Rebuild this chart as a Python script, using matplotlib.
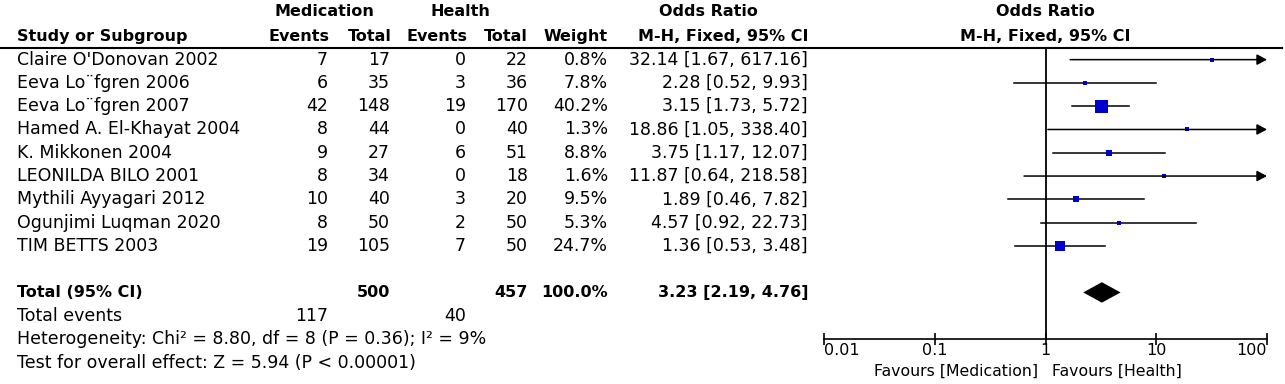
import matplotlib
matplotlib.use("Agg")
import matplotlib.pyplot as plt
from matplotlib.lines import Line2D
from matplotlib.transforms import blended_transform_factory

# study data
studies = ["Claire O'Donovan 2002", "Eeva Lo\u00a8fgren 2006", "Eeva Lo\u00a8fgren 2007",
           "Hamed A. El-Khayat 2004", "K. Mikkonen 2004", "LEONILDA BILO 2001",
           "Mythili Ayyagari 2012", "Ogunjimi Luqman 2020", "TIM BETTS 2003"]
med_events = [7, 6, 42, 8, 9, 8, 10, 8, 19]
med_total = [17, 35, 148, 44, 27, 34, 40, 50, 105]
hl_events = [0, 3, 19, 0, 6, 0, 3, 2, 7]
hl_total = [22, 36, 170, 40, 51, 18, 20, 50, 50]
weights = [0.8, 7.8, 40.2, 1.3, 8.8, 1.6, 9.5, 5.3, 24.7]
or_est = [32.14, 2.28, 3.15, 18.86, 3.75, 11.87, 1.89, 4.57, 1.36]
ci_lo = [1.67, 0.52, 1.73, 1.05, 1.17, 0.64, 0.46, 0.92, 0.53]
ci_hi = [617.16, 9.93, 5.72, 338.40, 12.07, 218.58, 7.82, 22.73, 3.48]

total_or, total_lo, total_hi = 3.23, 2.19, 4.76
total_med, total_hl = 500, 457
events_med, events_hl = 117, 40
xticks = [0.01, 0.1, 1, 10, 100]
xtick_labels = ["0.01", "0.1", "1", "10", "100"]

W, H = 1285, 384
FS = 12.5      # regular text
FSB = 11.5     # bold headers
BLUE = "#0000cc"

fig = plt.figure(figsize=(W / 100, H / 100), dpi=100)
ax = fig.add_axes([824 / W, (H - 339) / H, (1267 - 824) / W, (339 - 48) / H])
ax.set_xscale("log")
ax.set_xlim(0.01, 100)
ax.set_ylim(12, -0.5)
for s in ["top", "left", "right"]:
    ax.spines[s].set_visible(False)
ax.spines["bottom"].set_linewidth(1.2)
ax.set_yticks([])
ax.set_xticks(xticks)
ax.set_xticklabels(xtick_labels, fontsize=11.5)
ax.minorticks_off()
ax.tick_params(axis="x", direction="inout", length=8, width=1.2, pad=-1)
labs = ax.get_xticklabels()
labs[0].set_ha("left")
labs[-1].set_ha("right")

# x in figure pixels, y in row units
tr = blended_transform_factory(fig.transFigure, ax.transData)


def put(x, y, s, ha="left", bold=False, size=None):
    if size is None:
        size = FSB if bold else FS
    fig.text(x / W, y, s, transform=tr, ha=ha, va="center", fontsize=size,
             fontweight="bold" if bold else "normal")


# header
put(324, -2.05, "Medication", "center", True)
put(460, -2.05, "Health", "center", True)
put(708, -2.05, "Odds Ratio", "center", True)
put(1045, -2.05, "Odds Ratio", "center", True)
put(17, -1.0, "Study or Subgroup", bold=True)
put(330, -1.0, "Events", "right", True)
put(392, -1.0, "Total", "right", True)
put(468, -1.0, "Events", "right", True)
put(528, -1.0, "Total", "right", True)
put(608, -1.0, "Weight", "right", True)
put(808, -1.0, "M-H, Fixed, 95% CI", "right", True)
put(1045, -1.0, "M-H, Fixed, 95% CI", "center", True)
fig.add_artist(Line2D([0, 1282 / W], [-0.5, -0.5], transform=tr, color="black", lw=1.5))

for i, name in enumerate(studies):
    put(17, i, name)
    put(328, i, str(med_events[i]), "right")
    put(390, i, str(med_total[i]), "right")
    put(466, i, str(hl_events[i]), "right")
    put(528, i, str(hl_total[i]), "right")
    put(608, i, f"{weights[i]:.1f}%", "right")
    put(808, i, f"{or_est[i]:.2f} [{ci_lo[i]:.2f}, {ci_hi[i]:.2f}]", "right")

    if ci_hi[i] > 100:
        ax.annotate("", xy=(100, i), xytext=(ci_lo[i], i),
                    arrowprops=dict(arrowstyle="-|>,head_length=0.6,head_width=0.32",
                                    color="black", lw=1.1, shrinkA=0, shrinkB=0))
    else:
        ax.plot([ci_lo[i], ci_hi[i]], [i, i], color="black", lw=1.1)
    side = (3 + 10 * weights[i] / max(weights)) * 0.72
    ax.plot(or_est[i], i, marker="s", ms=side, color=BLUE, mew=0)

# total row
put(17, 10, "Total (95% CI)", bold=True)
put(390, 10, str(total_med), "right", True)
put(528, 10, str(total_hl), "right", True)
put(608, 10, "100.0%", "right", True)
put(808, 10, f"{total_or:.2f} [{total_lo:.2f}, {total_hi:.2f}]", "right", True)
ax.fill([total_lo, total_or, total_hi, total_or], [10, 9.56, 10, 10.44], color="black", lw=0)

put(17, 11, "Total events")
put(328, 11, str(events_med), "right")
put(466, 11, str(events_hl), "right")
put(17, 12.02, "Heterogeneity: Chi\u00b2 = 8.80, df = 8 (P = 0.36); I\u00b2 = 9%")
put(17, 13.02, "Test for overall effect: Z = 5.94 (P < 0.00001)")

ax.axvline(1, color="black", lw=1.3)
put(1038, 13.38, "Favours [Medication]", "right", size=11.3)
put(1052, 13.38, "Favours [Health]", "left", size=11.3)

fig.savefig("out.png", dpi=100)
